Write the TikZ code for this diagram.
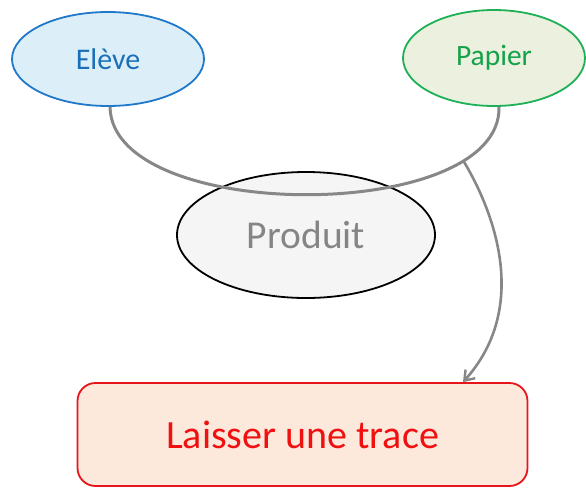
\documentclass[tikz,border=0pt]{standalone}
\usepackage{fontspec}
\setmainfont{Carlito}
\usetikzlibrary{shapes.geometric,arrows.meta}
\definecolor{eleveline}{HTML}{1F78C8}
\definecolor{elevefill}{HTML}{DCEEF7}
\definecolor{eleveText}{HTML}{1A70B8}
\definecolor{papline}{HTML}{1DB056}
\definecolor{papfill}{HTML}{EBF1DE}
\definecolor{papText}{HTML}{14A24A}
\definecolor{prodfill}{HTML}{F5F5F5}
\definecolor{prodText}{HTML}{858585}
\definecolor{conn}{HTML}{878787}
\definecolor{boxfill}{HTML}{FCE9DC}
\definecolor{boxline}{HTML}{E8141B}
\definecolor{boxText}{HTML}{F01010}
\tikzset{
  ell/.style={ellipse, line width=1.8pt, inner sep=0pt},
  connline/.style={draw=conn, line width=3pt},
}
\begin{document}
\begin{tikzpicture}[x=1pt,y=-1pt]
\useasboundingbox (0,0) rectangle (586,488);
\node[ell, draw=eleveline, fill=elevefill, minimum width=192pt, minimum height=94pt, text=eleveText, font=\fontsize{30}{32}\selectfont] (eleve) at (108,59) {Elève};
\node[ell, draw=papline, fill=papfill, minimum width=182pt, minimum height=96pt, text=papText, font=\fontsize{29.5}{32}\selectfont] (papier) at (494,58) {Papier};
\node[ell, draw=black, fill=prodfill, minimum width=258pt, minimum height=126pt, text=prodText, font=\fontsize{39.5}{42}\selectfont] (produit) at (306,235) {Produit};
\node[draw=boxline, fill=boxfill, line width=1.8pt, rounded corners=18pt, minimum width=450pt, minimum height=103pt, text=boxText, font=\fontsize{40}{42}\selectfont] (trace) at (302.5,434.5) {Laisser une trace};
\draw[connline] ([xshift=2pt]eleve.south)
  .. controls (112,224) and (502,224) .. ([xshift=5pt]papier.south)
  coordinate[pos=0.81] (br);
\draw[connline, line width=2.6pt, -{Straight Barb[length=9pt,width=13pt,line width=2.4pt]}]
  (br) .. controls (500,222) and (526,312) .. (trace.north -| 463,0);
\end{tikzpicture}
\end{document}
